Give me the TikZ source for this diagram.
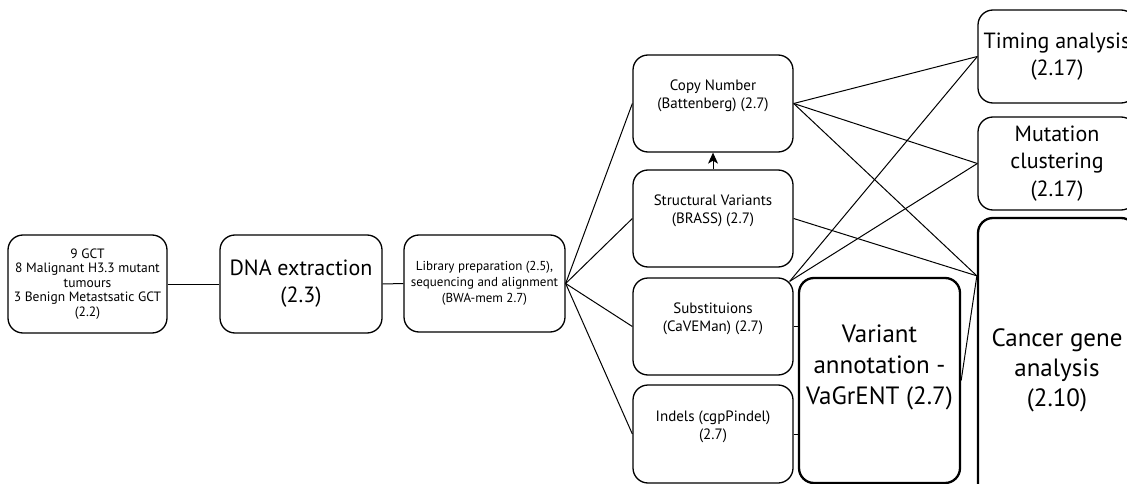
\documentclass[tikz,border=0pt]{standalone}
\usepackage{fontspec}
\setmainfont{PT Sans}
\usepackage{tikz}
\usetikzlibrary{shapes}
\usetikzlibrary{arrows}
\usetikzlibrary{arrows.meta}

\begin{document}
\begin{tikzpicture}[x=1pt,y=-1pt]
        \useasboundingbox (0,0) rectangle (1127,484);
        \tikzstyle{block} = [draw,line width=1.3pt,rounded corners=15pt,align=center,inner sep=0pt,minimum width=160pt,minimum height=97pt]
        \tikzstyle{bigblock} = [block,line width=2.3pt]
        \tikzstyle{link} = [line width=1pt]
        \node[block,minimum width=159pt,minimum height=98pt,font=\fontsize{13.5}{14.4}\selectfont] (samples) at (87.5,284) {9 GCT\\8 Malignant H3.3 mutant\\tumours\\3 Benign Metastsatic GCT\\(2.2)};
        \node[block,minimum width=162pt,minimum height=98pt,font=\fontsize{22}{27}\selectfont] (dna) at (301,284) {DNA extraction\\(2.3)};
        \node[block,minimum width=161pt,font=\fontsize{13}{16}\selectfont] (lib) at (484.5,283.5) {Library preparation (2.5),\\sequencing and alignment\\(BWA-mem 2.7)};
        \node[block,font=\fontsize{15}{18}\selectfont] (cn) at (713,103.5) {Copy Number\\(Battenberg) (2.7)\\~};
        \node[block,font=\fontsize{15}{18}\selectfont] (sv) at (713,218.5) {Structural Variants\\(BRASS) (2.7)\\~};
        \node[block,font=\fontsize{15}{18}\selectfont] (subs) at (713,326.5) {Substituions\\(CaVEMan) (2.7)\\~};
        \node[block,minimum height=98pt,font=\fontsize{15}{18}\selectfont] (indels) at (713,434) {Indels (cgpPindel)\\(2.7)\\~};
        \node[bigblock,minimum width=161pt,minimum height=205pt,font=\fontsize{25}{31}\selectfont] (vagrent) at (879.5,380.5) {Variant\\annotation -\\VaGrENT (2.7)\\~};
        \node[block,minimum width=158pt,minimum height=93pt,font=\fontsize{22}{26.5}\selectfont] (timing) at (1057,56.5) {Timing analysis\\(2.17)};
        \node[block,minimum width=158pt,minimum height=93pt,font=\fontsize{22}{27.5}\selectfont] (clust) at (1057,163.5) {Mutation\\clustering\\(2.17)};
        \node[bigblock,minimum width=158pt,minimum height=304pt,font=\fontsize{25}{30}\selectfont] (cancer) at (1057,370) {Cancer gene\\analysis\\(2.10)};
        \coordinate (cin) at ([yshift=-59pt]cancer.north west);
        \coordinate (subc) at ([shift={(-4pt,-4pt)}]subs.north east);
        \draw[link] (samples.east)--(dna.west);
        \draw[link] (dna.east)--(lib.west);
        \draw[link] (lib.east)--(cn.west);
        \draw[link] (lib.east)--(sv.west);
        \draw[link] (lib.east)--(subs.west);
        \draw[link] (lib.east)--(indels.west);
        \draw[link,-{Stealth[length=11pt,width=10pt,inset=3pt]}] (sv.north)--(cn.south);
        \draw[link] (cn.east)--(timing.west);
        \draw[link] (cn.east)--(clust.west);
        \draw[link] (cn.east)--(cin);
        \draw[link] (sv.east)--(cin);
        \draw[link] (subc)--(timing.west);
        \draw[link] (subc)--(clust.west);
        \draw[link] (subs.east)--(subs.east -| vagrent.west);
        \draw[link] (indels.east)--(indels.east -| vagrent.west);
        \draw[link] (vagrent.east)--(cin);
       \end{tikzpicture}
\end{document}
